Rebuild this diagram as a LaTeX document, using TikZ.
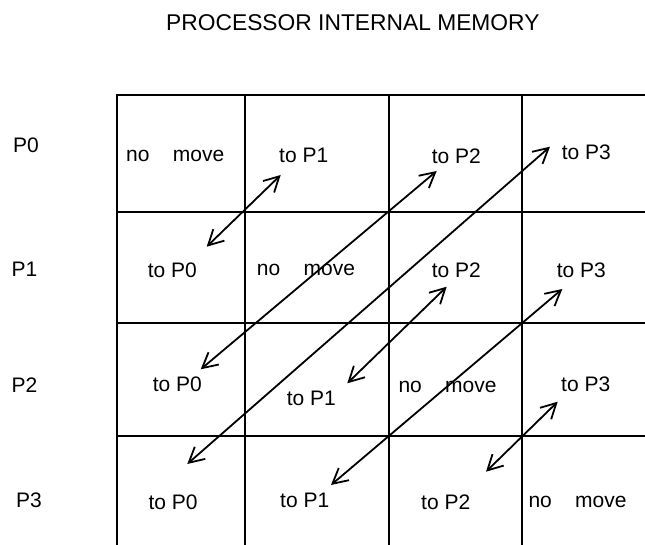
\documentclass[tikz,border=0pt]{standalone}
\usepackage{fontspec}
\setmainfont{Liberation Sans}
\usetikzlibrary{arrows.meta}
\newcommand{\cellfont}{\fontsize{21}{25}\selectfont}
\newcommand{\titlefont}{\fontsize{22.8}{27}\selectfont}
\tikzset{
 gridline/.style={line width=2.2pt},
 cell/.style={anchor=base west,inner sep=0pt,font=\cellfont},
 xfer/.style={{Straight Barb[length=15pt,width=16pt]}-{Straight Barb[length=15pt,width=16pt]},line width=1.8pt}
}
\begin{document}
\begin{tikzpicture}[x=1pt,y=-1pt]
\useasboundingbox (0,0) rectangle (645,545);
\node[anchor=base west,inner sep=0pt,font=\titlefont] (title) at (166,31) {PROCESSOR INTERNAL MEMORY};
% grid
\draw[gridline] (117,545) |- (645,95);
\draw[gridline] (117,212) -- (645,212);
\draw[gridline] (117,323) -- (645,323);
\draw[gridline] (117,436) -- (645,436);
\draw[gridline] (245,95) -- (245,545);
\draw[gridline] (389,95) -- (389,545);
\draw[gridline] (522,95) -- (522,545);
% processors
\node[cell] (p0) at (13,153) {P0};
\node[cell] (p1) at (11.5,277) {P1};
\node[cell] (p2) at (11.5,392) {P2};
\node[cell] (p3) at (16,507) {P3};
% row P0
\node[cell] (c00) at (126,161.7) {no\ \ \ \ move};
\node[cell] (c01) at (279,163) {to P1};
\node[cell] (c02) at (431.7,163.3) {to P2};
\node[cell] (c03) at (561.7,160) {to P3};
% row P1
\node[cell] (c10) at (147.7,277.7) {to P0};
\node[cell] (c11) at (256.7,275.7) {no\ \ \ \ move};
\node[cell] (c12) at (431.7,277.3) {to P2};
\node[cell] (c13) at (556.7,277.3) {to P3};
% row P2
\node[cell] (c20) at (152.7,391) {to P0};
\node[cell] (c21) at (286.7,405.7) {to P1};
\node[cell] (c22) at (398.3,392.3) {no\ \ \ \ move};
\node[cell] (c23) at (561,391) {to P3};
% row P3
\node[cell] (c30) at (148.3,509.3) {to P0};
\node[cell] (c31) at (280,507.7) {to P1};
\node[cell] (c32) at (421,509.3) {to P2};
\node[cell] (c33) at (528.3,507.7) {no\ \ \ \ move};
% arrow ends
\coordinate (t01) at (280.7,175);
\coordinate (t10) at (206.7,246.7);
\coordinate (t02) at (436.7,171);
\coordinate (t20) at (200.7,369.3);
\coordinate (t03) at (550,146.7);
\coordinate (t30) at (187.3,464);
\coordinate (t12) at (446.7,286.7);
\coordinate (t21) at (347.3,383.3);
\coordinate (t13) at (562.3,289);
\coordinate (t31) at (331,485);
\coordinate (t23) at (557.7,401.7);
\coordinate (t32) at (486,471.7);
\draw[xfer] (t10) -- (t01);
\draw[xfer] (t20) -- (t02);
\draw[xfer] (t30) -- (t03);
\draw[xfer] (t21) -- (t12);
\draw[xfer] (t31) -- (t13);
\draw[xfer] (t32) -- (t23);
\end{tikzpicture}
\end{document}
